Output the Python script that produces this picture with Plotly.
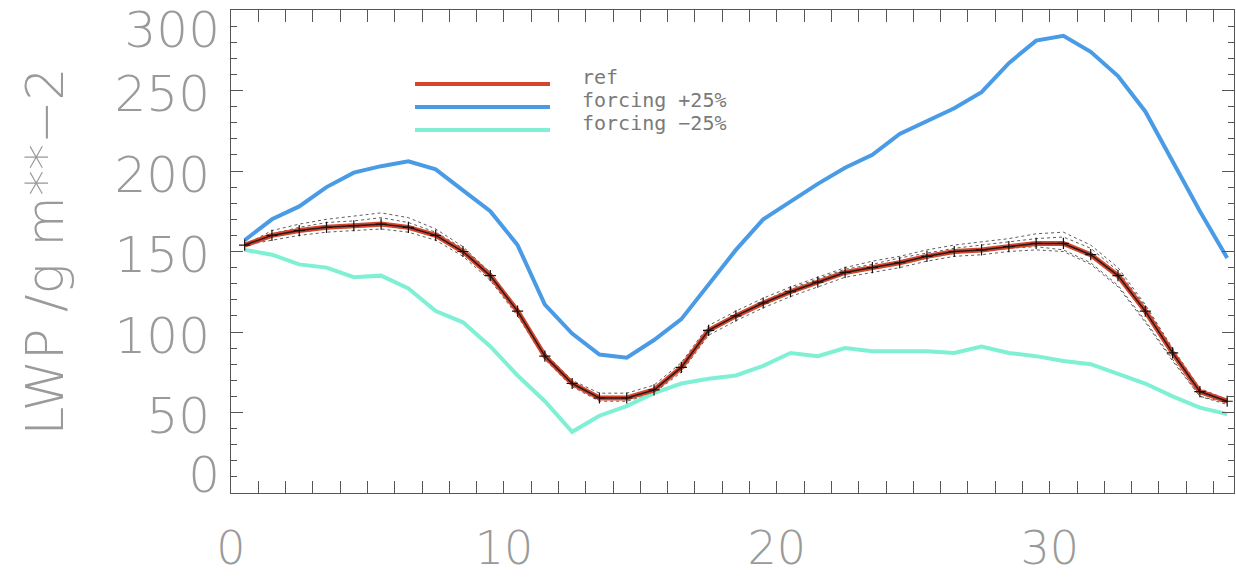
import plotly.graph_objects as go

# ---- data ----
hours = [0.5, 1.5, 2.5, 3.5, 4.5, 5.5, 6.5, 7.5, 8.5, 9.5, 10.5, 11.5, 12.5, 13.5,
         14.5, 15.5, 16.5, 17.5, 18.5, 19.5, 20.5, 21.5, 22.5, 23.5, 24.5, 25.5,
         26.5, 27.5, 28.5, 29.5, 30.5, 31.5, 32.5, 33.5, 34.5, 35.5, 36.5]

lwp_ref = [154, 160, 163, 165, 166, 167, 165, 160, 150, 135, 113, 85, 68, 59, 59, 64,
           78, 101, 110, 118, 125, 131, 137, 140, 143, 147, 150, 151, 153, 155, 155,
           148, 135, 113, 87, 63, 57]

lwp_plus25 = [157, 170, 178, 190, 199, 203, 206, 201, 188, 175, 154, 117, 99, 86, 84,
              95, 108, 130, 151, 170, 181, 192, 202, 210, 223, 231, 239, 249, 267, 281,
              284, 274, 259, 237, 206, 175, 146]

lwp_minus25 = [151, 148, 142, 140, 134, 135, 127, 113, 106, 91, 73, 57, 38, 48, 54, 62,
               68, 71, 73, 79, 87, 85, 90, 88, 88, 88, 87, 91, 87, 85, 82, 80, 74, 68,
               60, 53, 49]

member_1 = [154, 163, 167, 170, 172, 174, 171, 164, 153, 137, 115, 87, 70, 62, 62, 67,
            81, 104, 113, 121, 128, 134, 140, 144, 147, 151, 154, 156, 158, 161, 162,
            154, 140, 117, 90, 65, 58]
member_2 = [154, 157, 160, 162, 163, 164, 162, 157, 147, 132, 110, 83, 66, 57, 57, 62,
            75, 98, 107, 115, 122, 128, 134, 137, 140, 144, 147, 148, 150, 151, 150,
            142, 128, 106, 82, 60, 55]
member_3 = [154, 161, 165, 168, 169, 171, 168, 162, 152, 137, 114, 86, 69, 60, 60, 65,
            79, 102, 111, 119, 127, 133, 139, 142, 146, 149, 152, 154, 156, 158, 159,
            152, 138, 116, 89, 64, 57]
member_4 = [154, 159, 162, 164, 165, 166, 164, 159, 149, 134, 112, 84, 67, 59, 58, 63,
            77, 100, 109, 117, 124, 130, 136, 139, 142, 146, 149, 150, 152, 153, 151,
            143, 129, 107, 83, 60, 56]

legend_labels = ["ref", "forcing +25%", "forcing \u221225%"]
legend_colors = ["#d5452c", "#4a9be6", "#7ff0d4"]

x_ticks = [0, 10, 20, 30]
y_ticks_mid = [50, 100, 150, 200, 250]
y_tick_top = [300]
y_tick_bottom = [0]
y_range = [0, 300]

GREY = "#9a9a9a"
FONT = "'DejaVu Sans', sans-serif"
TICKFONT = dict(family=FONT, size=50, color=GREY, weight=200)
XTICKFONT = dict(family=FONT, size=46, color=GREY, weight=200)

fig = go.Figure()

# ensemble members (dotted)
for m in [member_1, member_2, member_3, member_4]:
    fig.add_trace(go.Scatter(x=hours, y=m, mode="lines",
                             line=dict(color="rgba(40,40,40,0.75)", width=1, dash="dot"),
                             showlegend=False, hoverinfo="skip"))

fig.add_trace(go.Scatter(x=hours, y=lwp_plus25, mode="lines",
                         line=dict(color=legend_colors[1], width=4), name=legend_labels[1],
                         showlegend=False))
fig.add_trace(go.Scatter(x=hours, y=lwp_minus25, mode="lines",
                         line=dict(color=legend_colors[2], width=4), name=legend_labels[2],
                         showlegend=False))
fig.add_trace(go.Scatter(x=hours, y=lwp_ref, mode="lines",
                         line=dict(color=legend_colors[0], width=5), name=legend_labels[0],
                         showlegend=False))
fig.add_trace(go.Scatter(x=hours, y=lwp_ref, mode="lines+markers",
                         line=dict(color="#2a1a1a", width=1.5),
                         marker=dict(symbol="cross-thin", size=8,
                                     line=dict(color="#1a1010", width=1.2)),
                         showlegend=False, hoverinfo="skip"))

# helper traces so the overlay axes (end labels 0 and 300) are drawn
for ax in ["y2", "y3"]:
    fig.add_trace(go.Scatter(x=hours[:1], y=lwp_ref[:1], mode="lines", yaxis=ax,
                             line=dict(width=0), showlegend=False, hoverinfo="skip"))

# manual legend (long line samples like the original)
W, H = 1236, 581
l_m, r_m, t_m, b_m = 231, 2, 10, 88
pw, ph = W - l_m - r_m, H - t_m - b_m
def px_x(px):
    return (px - l_m) / pw
def px_y(py):
    return 1 - (py - t_m) / ph

for i, (lab, col) in enumerate(zip(legend_labels, legend_colors)):
    yy = 84 + 23 * i
    fig.add_shape(type="line", xref="paper", yref="paper",
                  x0=px_x(415), x1=px_x(550), y0=px_y(yy), y1=px_y(yy),
                  line=dict(color=col, width=4))
    fig.add_annotation(xref="paper", yref="paper", x=px_x(580), y=px_y(yy - 7),
                       text=lab, showarrow=False, xanchor="left", yanchor="middle",
                       font=dict(family="'DejaVu Sans Mono', monospace", size=20,
                                 color="#7a7a7a"))

axis_common = dict(
    showline=True, linecolor="#555", linewidth=1, mirror="allticks",
    ticks="inside", ticklen=12, tickwidth=1, tickcolor="#555",
    showgrid=False, zeroline=False, automargin=False,
)

fig.update_xaxes(range=[0, 36.75], tickvals=x_ticks, ticklabelstandoff=15,
                 tickfont=XTICKFONT,
                 minor=dict(dtick=1, ticks="inside", ticklen=6, tickcolor="#555"),
                 **axis_common)
fig.update_yaxes(range=y_range, tickvals=y_ticks_mid, ticklabelstandoff=10,
                 ticklabelshift=3, tickfont=TICKFONT,
                 minor=dict(dtick=10, ticks="inside", ticklen=6, tickcolor="#555"),
                 title=dict(text="LWP /g m**\u22122", standoff=34,
                            font=dict(family=FONT, size=52, color=GREY, weight=200)),
                 **axis_common)

overlay_common = dict(overlaying="y", range=y_range, showline=False, ticks="",
                      showgrid=False, zeroline=False, automargin=False,
                      tickfont=TICKFONT, ticklabelstandoff=10)
fig.update_layout(
    yaxis2=dict(tickvals=y_tick_top, ticklabelshift=19, **overlay_common),
    yaxis3=dict(tickvals=y_tick_bottom, ticklabelshift=-19, **overlay_common),
)

fig.update_layout(width=W, height=H, margin=dict(l=l_m, r=r_m, t=t_m, b=b_m),
                  plot_bgcolor="white", paper_bgcolor="white")

fig.write_html("out.html")
